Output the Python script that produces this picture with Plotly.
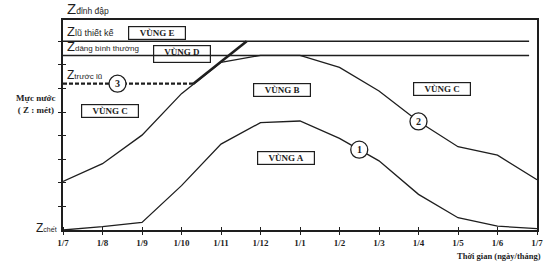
import plotly.graph_objects as go

# ---------------- data ----------------
months = ["1/7", "1/8", "1/9", "1/10", "1/11", "1/12", "1/1", "1/2", "1/3", "1/4", "1/5", "1/6", "1/7"]
month_pos = list(range(len(months)))

# Characteristic levels (relative units, Z chết = 0)
Z_CHET = 0.0
Z_TRUOC_LU = 6.2
Z_DANG_BT = 7.4
Z_LU_TK = 8.0
Z_DINH_DAP = 8.9

# Curve 1 (lower rule curve) and curve 2 (upper rule curve)
curve1 = [0.0, 0.14, 0.32, 1.88, 3.64, 4.55, 4.62, 3.88, 2.93, 1.51, 0.52, 0.16, 0.06]
curve2 = [2.06, 2.81, 4.02, 5.78, 7.11, 7.40, 7.40, 6.89, 5.89, 4.60, 3.53, 3.17, 2.13]

# Curve 3: pre-flood level then flood-control rise
rule3_dash_x = [0, 3.3]
rule3_dash_y = [Z_TRUOC_LU, Z_TRUOC_LU]
rule3_solid_x = [3.3, 4.65]
rule3_solid_y = [Z_TRUOC_LU, Z_LU_TK]

level_line_end = 11.8

INK = "#1e1e1e"
SERIF = "Liberation Serif"
SANS = "Liberation Sans"

fig = go.Figure()

# horizontal characteristic lines
for lvl in (Z_LU_TK, Z_DANG_BT):
    fig.add_trace(go.Scatter(x=[0, level_line_end], y=[lvl, lvl], mode="lines",
                             line=dict(color=INK, width=1.5), hoverinfo="skip", showlegend=False))

fig.add_trace(go.Scatter(x=month_pos, y=curve1, mode="lines",
                         line=dict(color=INK, width=1.3), showlegend=False))
fig.add_trace(go.Scatter(x=month_pos, y=curve2, mode="lines",
                         line=dict(color=INK, width=1.3), showlegend=False))
fig.add_trace(go.Scatter(x=rule3_dash_x, y=rule3_dash_y, mode="lines",
                         line=dict(color=INK, width=2.2, dash="4px,2px"), showlegend=False))
fig.add_trace(go.Scatter(x=rule3_solid_x, y=rule3_solid_y, mode="lines",
                         line=dict(color=INK, width=2.6), showlegend=False))

annotations = []
shapes = []

# Z level labels
def zlabel(y, sub, zsize, subsize, yshift):
    annotations.append(dict(
        x=0, y=y, xref="x", yref="y", xanchor="left", yanchor="bottom",
        xshift=2, yshift=yshift, showarrow=False,
        text=f'Z<span style="font-size:{subsize}px">{sub}</span>',
        font=dict(family=SANS, size=zsize, color=INK)))

zlabel(Z_DINH_DAP, "đỉnh đập", 15, 8.5, 1)
zlabel(Z_LU_TK, "lũ thiết kế", 13, 9, 0)
zlabel(Z_DANG_BT, "dâng bình thường", 13, 8, -1)
zlabel(Z_TRUOC_LU, "trước lũ", 12, 8, 0)

annotations.append(dict(
    x=0, y=Z_CHET, xref="x", yref="y", xanchor="right", yanchor="middle",
    xshift=-4, yshift=2, showarrow=False,
    text='Z<span style="font-size:7px">chết</span>',
    font=dict(family=SANS, size=12, color=INK)))

# axis titles
annotations.append(dict(
    x=-0.058, y=0.6, xref="paper", yref="paper", xanchor="center", yanchor="middle",
    showarrow=False, text="<b>Mực nước</b><br><b>( Z : mét)</b>",
    font=dict(family=SERIF, size=9, color=INK)))
annotations.append(dict(
    x=1.012, y=-0.09, xref="paper", yref="paper", xanchor="right", yanchor="top",
    showarrow=False, text="<b>Thời gian (ngày/tháng)</b>",
    font=dict(family=SERIF, size=8.5, color=INK)))

# zone boxes
def zone(x, y, label, height=10, bg="white", valign="middle"):
    annotations.append(dict(
        x=x, y=y, xref="x", yref="y", showarrow=False,
        text=f"<b>{label}</b>", width=54, height=height, valign=valign,
        bordercolor=INK, borderwidth=1.2, borderpad=1, bgcolor=bg,
        font=dict(family=SERIF, size=9, color=INK)))

zone(2.38, 8.33, "VÙNG E")
zone(3.0, 7.47, "VÙNG D", height=14, bg="rgba(0,0,0,0)", valign="top")
zone(1.18, 5.04, "VÙNG C")
zone(5.54, 5.94, "VÙNG B")
zone(9.6, 5.99, "VÙNG C")
zone(5.64, 3.06, "VÙNG A")

# numbered circles
def badge(x, y, label):
    shapes.append(dict(type="circle", xref="x", yref="y", xsizemode="pixel", ysizemode="pixel",
                       xanchor=x, yanchor=y, x0=-8.5, x1=8.5, y0=-8.5, y1=8.5,
                       fillcolor="white", line=dict(color=INK, width=1.3), layer="above"))
    annotations.append(dict(x=x, y=y, xref="x", yref="y", showarrow=False,
                            text=f"<b>{label}</b>",
                            font=dict(family=SERIF, size=10, color=INK)))

badge(1.38, Z_TRUOC_LU, "3")
badge(9.0, curve2[9], "2")
badge(7.5, (curve1[7] + curve1[8]) / 2, "1")

fig.update_layout(
    width=555, height=265,
    margin=dict(l=63, r=13, t=20, b=35),
    paper_bgcolor="white", plot_bgcolor="white",
    showlegend=False,
    annotations=annotations, shapes=shapes,
    xaxis=dict(range=[0, 12], tickvals=month_pos, ticktext=[f"<b>{m}</b>" for m in months],
               showgrid=False, zeroline=False, showline=True, linecolor=INK, linewidth=2,
               mirror=True, ticks="outside", ticklen=3, tickcolor=INK, tickwidth=1,
               minor=dict(tickvals=month_pos, ticks="inside", ticklen=3, tickcolor=INK, tickwidth=1),
               tickfont=dict(family=SERIF, size=9, color=INK), fixedrange=True),
    yaxis=dict(range=[0, Z_DINH_DAP], tickvals=[1, 2, 3, 4, 5, 6, 7, 8], showticklabels=False,
               showgrid=False, zeroline=False, showline=True, linecolor=INK, linewidth=1.6,
               mirror=True, ticks="outside", ticklen=3, tickcolor=INK, tickwidth=1,
               minor=dict(tickvals=[1, 2, 3, 4, 5, 6, 7, 8], ticks="inside", ticklen=3,
                          tickcolor=INK, tickwidth=1),
               fixedrange=True),
)

fig.write_html("out.html")
